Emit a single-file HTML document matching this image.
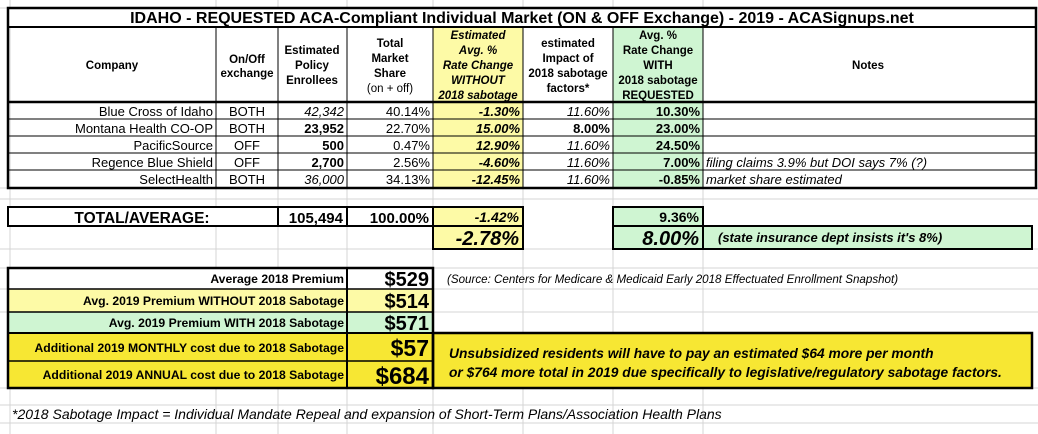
<!DOCTYPE html>
<html><head><style>
html,body{margin:0;padding:0;background:#fff;}
svg{display:block;font-family:"Liberation Sans",Arial,sans-serif;}
</style></head><body>
<svg width="1038" height="434" viewBox="0 0 1038 434" xmlns="http://www.w3.org/2000/svg">
<rect width="1038" height="434" fill="#fff"/>
<g stroke="#d4d4d4" stroke-width="1">
<line x1="10" y1="0" x2="10" y2="434"/><line x1="216" y1="0" x2="216" y2="434"/><line x1="278" y1="0" x2="278" y2="434"/>
<line x1="347" y1="0" x2="347" y2="434"/><line x1="433" y1="0" x2="433" y2="434"/><line x1="523" y1="0" x2="523" y2="434"/>
<line x1="613" y1="0" x2="613" y2="434"/><line x1="703" y1="0" x2="703" y2="434"/>
<line x1="0" y1="8" x2="1038" y2="8"/><line x1="0" y1="199" x2="1038" y2="199"/><line x1="0" y1="249" x2="1038" y2="249"/>
<line x1="0" y1="268" x2="1038" y2="268"/><line x1="0" y1="289" x2="1038" y2="289"/><line x1="0" y1="312" x2="1038" y2="312"/>
<line x1="0" y1="388" x2="1038" y2="388"/><line x1="0" y1="405" x2="1038" y2="405"/><line x1="0" y1="423" x2="1038" y2="423"/>
<line x1="0" y1="188" x2="1038" y2="188"/>
</g>
<rect x="433" y="27" width="90" height="161" fill="#fdfaa6"/>
<rect x="613" y="27" width="90" height="161" fill="#cff5d2"/>
<rect x="8" y="8" width="1028" height="19" fill="#fff"/>
<g stroke="#000" fill="none">
<rect x="8" y="8" width="1028" height="180" stroke-width="2.5"/>
<line x1="8" y1="27" x2="1036" y2="27" stroke-width="2"/>
<line x1="8" y1="102" x2="1036" y2="102" stroke-width="2.5"/>
<g stroke-width="1">
<line x1="216" y1="27" x2="216" y2="188"/><line x1="278" y1="27" x2="278" y2="188"/><line x1="347" y1="27" x2="347" y2="188"/>
<line x1="433" y1="27" x2="433" y2="188"/><line x1="523" y1="27" x2="523" y2="188"/><line x1="613" y1="27" x2="613" y2="188"/>
<line x1="703" y1="27" x2="703" y2="188"/>
<line x1="8" y1="119" x2="1036" y2="119"/><line x1="8" y1="136" x2="1036" y2="136"/><line x1="8" y1="153" x2="1036" y2="153"/><line x1="8" y1="170" x2="1036" y2="170"/>
</g></g>
<text x="522" y="23" text-anchor="middle" font-size="16" font-weight="bold">IDAHO - REQUESTED ACA-Compliant Individual Market (ON &amp; OFF Exchange) - 2019 - ACASignups.net</text>
<g font-size="11.5" font-weight="bold" text-anchor="middle">
<text x="112" y="69">Company</text>
<text x="247" y="63">On/Off</text><text x="247" y="77">exchange</text>
<text x="312" y="54">Estimated</text><text x="312" y="69">Policy</text><text x="312" y="84">Enrollees</text>
<text x="390" y="47">Total</text><text x="390" y="62">Market</text><text x="390" y="77">Share</text><text x="390" y="92" font-weight="normal">(on + off)</text>
<g font-style="italic"><text x="478" y="39">Estimated</text><text x="478" y="54">Avg. %</text><text x="478" y="69">Rate Change</text><text x="478" y="84">WITHOUT</text><text x="478" y="99">2018 sabotage</text></g>
<text x="568" y="47">estimated</text><text x="568" y="62">Impact of</text><text x="568" y="77">2018 sabotage</text><text x="568" y="92">factors*</text>
<text x="658" y="39">Avg. %</text><text x="658" y="54">Rate Change</text><text x="658" y="69">WITH</text><text x="658" y="84">2018 sabotage</text><text x="658" y="99">REQUESTED</text>
<text x="868" y="69">Notes</text>
</g>
<g font-size="13">
<g text-anchor="end">
<text x="213" y="116">Blue Cross of Idaho</text><text x="213" y="133">Montana Health CO-OP</text><text x="213" y="150">PacificSource</text><text x="213" y="167">Regence Blue Shield</text><text x="213" y="184">SelectHealth</text>
</g>
<g text-anchor="middle"><text x="247" y="116">BOTH</text><text x="247" y="133">BOTH</text><text x="247" y="150">OFF</text><text x="247" y="167">OFF</text><text x="247" y="184">BOTH</text></g>
<g text-anchor="end">
<text x="344" y="116" font-style="italic">42,342</text><text x="344" y="133" font-weight="bold">23,952</text><text x="344" y="150" font-weight="bold">500</text><text x="344" y="167" font-weight="bold">2,700</text><text x="344" y="184" font-style="italic">36,000</text>
<text x="430" y="116">40.14%</text><text x="430" y="133">22.70%</text><text x="430" y="150">0.47%</text><text x="430" y="167">2.56%</text><text x="430" y="184">34.13%</text>
<g font-weight="bold" font-style="italic"><text x="520" y="116">-1.30%</text><text x="520" y="133">15.00%</text><text x="520" y="150">12.90%</text><text x="520" y="167">-4.60%</text><text x="520" y="184">-12.45%</text></g>
<text x="610" y="116" font-style="italic">11.60%</text><text x="610" y="133" font-weight="bold">8.00%</text><text x="610" y="150" font-style="italic">11.60%</text><text x="610" y="167" font-style="italic">11.60%</text><text x="610" y="184" font-style="italic">11.60%</text>
<g font-weight="bold"><text x="700" y="116">10.30%</text><text x="700" y="133">23.00%</text><text x="700" y="150">24.50%</text><text x="700" y="167">7.00%</text><text x="700" y="184">-0.85%</text></g>
</g>
<g font-style="italic"><text x="706" y="167">filing claims 3.9% but DOI says 7% (?)</text><text x="706" y="184">market share estimated</text></g>
</g>
<rect x="8" y="207" width="425" height="19" fill="#fff"/>
<rect x="433" y="207" width="90" height="42" fill="#fdfaa6"/>
<rect x="613" y="207" width="90" height="42" fill="#cff5d2"/>
<rect x="703" y="226" width="329" height="23" fill="#cff5d2"/>
<g stroke="#000" fill="none" stroke-width="2">
<rect x="8" y="207" width="425" height="19"/><line x1="278" y1="207" x2="278" y2="226"/><line x1="347" y1="207" x2="347" y2="226"/>
<rect x="433" y="207" width="90" height="19"/><rect x="433" y="226" width="90" height="23"/>
<rect x="613" y="207" width="90" height="19"/><rect x="613" y="226" width="419" height="23"/><line x1="703" y1="226" x2="703" y2="249"/>
</g>
<g font-weight="bold">
<text x="142" y="223" font-size="15.5" text-anchor="middle">TOTAL/AVERAGE:</text>
<text x="343" y="223" font-size="15" text-anchor="end">105,494</text>
<text x="429" y="223" font-size="15" text-anchor="end">100.00%</text>
<text x="519" y="222" font-size="14" font-style="italic" text-anchor="end">-1.42%</text>
<text x="519" y="245" font-size="20" font-style="italic" text-anchor="end">-2.78%</text>
<text x="699" y="222" font-size="14" text-anchor="end">9.36%</text>
<text x="699" y="245" font-size="20" font-style="italic" text-anchor="end">8.00%</text>
<text x="718" y="242" font-size="13" font-style="italic">(state insurance dept insists it's 8%)</text>
</g>
<rect x="8" y="268" width="425" height="21" fill="#fff"/>
<rect x="8" y="289" width="425" height="23" fill="#fdfaa6"/>
<rect x="8" y="312" width="425" height="21" fill="#cff5d2"/>
<rect x="8" y="333" width="1024" height="55" fill="#f7e733"/>
<g stroke="#000" fill="none">
<rect x="8" y="268" width="425" height="120" stroke-width="2.5"/>
<rect x="433" y="333" width="599" height="55" stroke-width="2.5"/>
<line x1="347" y1="268" x2="347" y2="388" stroke-width="2"/>
<line x1="8" y1="289" x2="433" y2="289" stroke-width="1.5"/><line x1="8" y1="312" x2="433" y2="312" stroke-width="1.5"/>
<line x1="8" y1="333" x2="433" y2="333" stroke-width="2"/><line x1="8" y1="361" x2="433" y2="361" stroke-width="1.5"/>
</g>
<g font-weight="bold" font-size="12.2" text-anchor="end">
<text x="344" y="283">Average 2018 Premium</text>
<text x="344" y="305">Avg. 2019 Premium WITHOUT 2018 Sabotage</text>
<text x="344" y="327">Avg. 2019 Premium WITH 2018 Sabotage</text>
<text x="344" y="352">Additional 2019 MONTHLY cost due to 2018 Sabotage</text>
<text x="344" y="379">Additional 2019 ANNUAL cost due to 2018 Sabotage</text>
</g>
<g font-weight="bold" text-anchor="end">
<text x="429" y="286" font-size="20">$529</text>
<text x="429" y="308" font-size="20">$514</text>
<text x="429" y="330" font-size="20">$571</text>
<text x="429" y="356" font-size="23">$57</text>
<text x="429" y="384" font-size="24">$684</text>
</g>
<text x="447" y="283" font-size="11.6" font-style="italic">(Source: Centers for Medicare &amp; Medicaid Early 2018 Effectuated Enrollment Snapshot)</text>
<g font-size="13.8" font-weight="bold" font-style="italic">
<text x="449" y="358">Unsubsidized residents will have to pay an estimated $64 more per month</text>
<text x="449" y="377">or $764 more total in 2019 due specifically to legislative/regulatory sabotage factors.</text>
</g>
<text x="12" y="419" font-size="14" font-style="italic">*2018 Sabotage Impact = Individual Mandate Repeal and expansion of Short-Term Plans/Association Health Plans</text>
</svg>
</body></html>
